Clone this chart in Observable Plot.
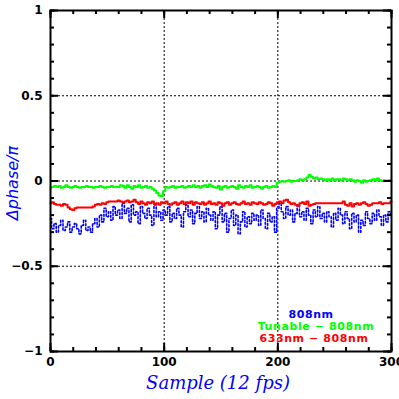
<!DOCTYPE html>
<html>
<head>
<meta charset="utf-8">
<script src="https://cdn.jsdelivr.net/npm/d3@7"></script>
<script src="https://cdn.jsdelivr.net/npm/@observablehq/plot@0.6"></script>
<style>
  html, body { margin: 0; padding: 0; background: #fff; }
  svg { display: block; }
  .legend text { letter-spacing: 0.6px; }
</style>
</head>
<body>
<div id="chart"></div>
<script>
// Samples 0..300 every 2 frames
const samples = d3.range(0, 301, 2);

const tunable = [
  -0.04,-0.035,-0.03,-0.035,-0.03,-0.04,-0.035,-0.025,-0.035,-0.04,-0.035,
  -0.03,-0.035,-0.04,-0.035,-0.035,-0.03,-0.035,-0.035,-0.04,-0.035,
  -0.035,-0.03,-0.035,-0.04,-0.035,-0.035,-0.03,-0.035,-0.035,-0.035,
  -0.025,-0.03,-0.04,-0.025,-0.035,-0.045,-0.03,-0.035,-0.025,-0.04,
  -0.035,-0.03,-0.04,-0.035,-0.045,-0.055,-0.07,-0.085,-0.09,-0.06,
  -0.035,-0.04,-0.035,-0.03,-0.04,-0.035,-0.035,-0.03,-0.04,-0.035,
  -0.03,-0.035,-0.025,-0.035,-0.03,-0.04,-0.03,-0.025,-0.035,-0.02,
  -0.03,-0.035,-0.04,-0.03,-0.05,-0.035,-0.03,-0.04,-0.035,-0.03,
  -0.035,-0.045,-0.025,-0.035,-0.04,-0.03,-0.035,-0.025,-0.04,-0.035,
  -0.03,-0.035,-0.045,-0.035,-0.03,-0.04,-0.035,-0.03,-0.035,-0.01,
  -0.005,0,-0.005,0,0.005,-0.005,0,0,0.005,0.01,
  0.005,0.01,0.02,0.035,0.025,0.015,0.02,0.01,0.015,0.01,
  0.005,0.01,0.005,0.015,0.005,0.01,0.01,0.005,0.015,0.01,
  0.005,0.01,0.005,-0.005,0.005,0,-0.01,0.005,-0.005,0,
  0.005,0.01,0.005,0.015,0.005,0,0.005,0,0.005,0
];

const he633 = [
  -0.13,-0.125,-0.135,-0.14,-0.14,-0.145,-0.135,-0.14,-0.155,-0.165,-0.17,
  -0.16,-0.155,-0.155,-0.155,-0.155,-0.155,-0.155,-0.155,-0.15,-0.14,
  -0.135,-0.14,-0.13,-0.135,-0.125,-0.12,-0.12,-0.12,-0.12,-0.115,
  -0.12,-0.125,-0.12,-0.115,-0.125,-0.12,-0.11,-0.125,-0.135,-0.12,
  -0.13,-0.14,-0.125,-0.13,-0.12,-0.135,-0.13,-0.14,-0.125,-0.13,
  -0.12,-0.135,-0.14,-0.13,-0.125,-0.14,-0.13,-0.12,-0.135,-0.125,
  -0.13,-0.12,-0.14,-0.125,-0.13,-0.135,-0.125,-0.14,-0.13,-0.12,
  -0.135,-0.13,-0.14,-0.125,-0.13,-0.145,-0.13,-0.125,-0.14,-0.13,
  -0.125,-0.135,-0.14,-0.13,-0.12,-0.135,-0.13,-0.14,-0.125,-0.13,
  -0.135,-0.125,-0.13,-0.14,-0.135,-0.125,-0.13,-0.145,-0.135,-0.125,
  -0.12,-0.13,-0.115,-0.11,-0.125,-0.135,-0.13,-0.14,-0.145,-0.13,
  -0.125,-0.135,-0.12,-0.145,-0.14,-0.135,-0.13,-0.13,-0.13,-0.13,
  -0.13,-0.13,-0.13,-0.13,-0.13,-0.13,-0.13,-0.13,-0.12,-0.14,
  -0.145,-0.13,-0.15,-0.135,-0.13,-0.14,-0.13,-0.125,-0.135,-0.145,
  -0.14,-0.13,-0.13,-0.13,-0.125,-0.135,-0.13,-0.13,-0.13,-0.12
];

const nm808 = [
  -0.22,-0.28,-0.25,-0.3,-0.26,-0.23,-0.29,-0.27,-0.24,-0.3,-0.27,
  -0.25,-0.28,-0.31,-0.26,-0.23,-0.29,-0.27,-0.3,-0.25,-0.22,
  -0.27,-0.2,-0.24,-0.16,-0.21,-0.18,-0.23,-0.15,-0.2,-0.17,
  -0.22,-0.13,-0.19,-0.16,-0.24,-0.14,-0.2,-0.18,-0.25,-0.15,
  -0.19,-0.22,-0.16,-0.2,-0.26,-0.14,-0.21,-0.18,-0.23,-0.17,
  -0.2,-0.15,-0.24,-0.19,-0.22,-0.16,-0.2,-0.27,-0.18,-0.14,
  -0.21,-0.17,-0.25,-0.19,-0.15,-0.22,-0.18,-0.24,-0.16,-0.2,
  -0.23,-0.18,-0.28,-0.2,-0.15,-0.24,-0.19,-0.3,-0.22,-0.17,
  -0.26,-0.2,-0.31,-0.24,-0.18,-0.27,-0.21,-0.25,-0.19,-0.23,
  -0.2,-0.26,-0.17,-0.22,-0.28,-0.19,-0.24,-0.21,-0.3,-0.16,
  -0.13,-0.18,-0.22,-0.15,-0.2,-0.17,-0.24,-0.19,-0.14,-0.21,
  -0.18,-0.23,-0.16,-0.2,-0.25,-0.17,-0.21,-0.15,-0.22,-0.19,
  -0.24,-0.18,-0.21,-0.27,-0.19,-0.23,-0.16,-0.2,-0.25,-0.18,
  -0.22,-0.28,-0.19,-0.24,-0.2,-0.3,-0.23,-0.26,-0.18,-0.22,
  -0.25,-0.19,-0.23,-0.17,-0.21,-0.26,-0.2,-0.24,-0.18,-0.2
];

const xMajor = [0, 100, 200, 300];
const xMinor = d3.range(0, 301, 20);
const yMajor = [-1, -0.5, 0, 0.5, 1];
const yMinor = d3.range(-10, 11).map(i => i / 10);
const xGrid = [100, 200];
const yGrid = [-0.5, 0, 0.5];

const legendLabels = ["808nm", "Tunable − 808nm", "633nm − 808nm"];
const legendColors = ["#0000ff", "#00ff00", "#ff0000"];

const W = 399, H = 399;
const mL = 50, mR = 8, mT = 10, mB = 48;
const fw = W - mL - mR, fh = H - mT - mB;

const seriesRows = (vals) => samples.map((s, i) => ({x: s, y: vals[i]}));

const tickFont = {fontFamily: "DejaVu Sans", fontWeight: "bold", fontSize: 12};
const legendFont = {fontFamily: "DejaVu Sans", fontWeight: "bold", fontSize: 11, textAnchor: "middle", lineAnchor: "middle", className: "legend"};

const chart = Plot.plot({
  width: W, height: H,
  marginLeft: mL, marginRight: mR, marginTop: mT, marginBottom: mB,
  x: {domain: [0, 300]},
  y: {domain: [-1, 1]},
  style: {background: "#fff", color: "black"},
  marks: [
    Plot.gridX(xGrid, {stroke: "black", strokeOpacity: 1, strokeDasharray: "2,2", strokeWidth: 1}),
    Plot.gridY(yGrid, {stroke: "black", strokeOpacity: 1, strokeDasharray: "2,2", strokeWidth: 1}),
    Plot.line(seriesRows(nm808), {x: "x", y: "y", curve: "step", stroke: "#0000ff", strokeWidth: 1.6, strokeDasharray: "2,2"}),
    Plot.line(seriesRows(tunable), {x: "x", y: "y", curve: "step", stroke: "#00ff00", strokeWidth: 2}),
    Plot.line(seriesRows(he633), {x: "x", y: "y", curve: "step", stroke: "#ff0000", strokeWidth: 2}),
    // inward ticks on all four sides
    Plot.tickX(xMajor, {x: d => d, insetTop: fh - 8, stroke: "black", strokeWidth: 2}),
    Plot.tickX(xMajor, {x: d => d, insetBottom: fh - 8, stroke: "black", strokeWidth: 2}),
    Plot.tickX(xMinor, {x: d => d, insetTop: fh - 4, stroke: "black", strokeWidth: 2}),
    Plot.tickX(xMinor, {x: d => d, insetBottom: fh - 4, stroke: "black", strokeWidth: 2}),
    Plot.tickY(yMajor, {y: d => d, insetRight: fw - 8, stroke: "black", strokeWidth: 2}),
    Plot.tickY(yMajor, {y: d => d, insetLeft: fw - 8, stroke: "black", strokeWidth: 2}),
    Plot.tickY(yMinor, {y: d => d, insetRight: fw - 4, stroke: "black", strokeWidth: 2}),
    Plot.tickY(yMinor, {y: d => d, insetLeft: fw - 4, stroke: "black", strokeWidth: 2}),
    Plot.axisX({ticks: xMajor, tickSize: 0, tickPadding: 6, label: null, ...tickFont, fill: "black"}),
    Plot.axisY({ticks: yMajor, tickSize: 0, tickPadding: 8, label: null, ...tickFont, fill: "black", tickFormat: d => d3.format("")(d).replace("-", "−")}),
    Plot.frame({stroke: "black", strokeWidth: 2}),
    // axis titles
    Plot.text(["Sample (12 fps)"], {frameAnchor: "bottom", dx: -3, dy: 32, textAnchor: "middle", lineAnchor: "middle", text: d => d, fill: "#0000ff", fontFamily: "DejaVu Serif", fontStyle: "italic", fontSize: 18}),
    Plot.text(["Δphase/π"], {frameAnchor: "left", dx: -38, dy: 2, rotate: -90, textAnchor: "middle", lineAnchor: "middle", text: d => d, fill: "#0000ff", fontFamily: "DejaVu Sans", fontStyle: "italic", fontSize: 16}),
    // legend
    Plot.text([legendLabels[0]], {frameAnchor: "bottom", dx: 90, dy: -37, text: d => d, fill: legendColors[0], ...legendFont}),
    Plot.text([legendLabels[1]], {frameAnchor: "bottom", dx: 95, dy: -25, text: d => d, fill: legendColors[1], ...legendFont}),
    Plot.text([legendLabels[2]], {frameAnchor: "bottom", dx: 93, dy: -13, text: d => d, fill: legendColors[2], ...legendFont})
  ]
});
document.getElementById("chart").appendChild(chart);
</script>
</body>
</html>
